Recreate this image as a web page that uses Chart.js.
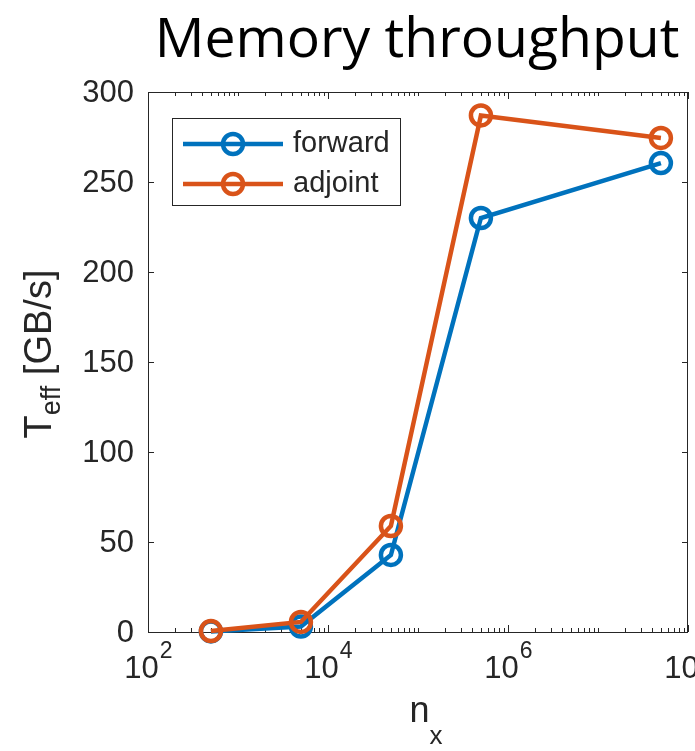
<!DOCTYPE html>
<html>
<head>
<meta charset="utf-8">
<script src="https://cdn.jsdelivr.net/npm/chart.js@4.4.1/dist/chart.umd.min.js"></script>
<style>
  html, body { margin: 0; padding: 0; background: #ffffff; }
  #wrap { width: 695px; height: 751px; position: relative; }
</style>
</head>
<body>
<div id="wrap"><canvas id="c" width="695" height="751"></canvas></div>
<script>
// ---- data ----
const titleText = "Memory throughput";
const nx = [5e2, 5e3, 5e4, 5e5, 5e7];
const forward = [0.3, 3.0, 42.8, 230, 260.5];
const adjoint = [0.5, 5.6, 58.9, 287, 274.5];
const seriesNames = ["forward", "adjoint"];
const xTickValues = [1e2, 1e4, 1e6, 1e8];
const xTickExponents = ["2", "4", "6", "8"];
const yTickValues = [0, 50, 100, 150, 200, 250, 300];
const yTickLabels = ["0", "50", "100", "150", "200", "250", "300"];

const BLUE = "#0072BD";
const ORANGE = "#D95319";
const AXC = "#262626";
const SANS = "'Liberation Sans', Arial, Helvetica, sans-serif";

const toPts = (arr) => nx.map((x, i) => ({ x: x, y: arr[i] }));

const axesPlugin = {
  id: "matlabAxes",
  beforeDatasetsDraw(chart) {
    const ctx = chart.ctx;
    const a = chart.chartArea;
    const xs = chart.scales.x, ys = chart.scales.y;
    ctx.save();
    ctx.strokeStyle = AXC;
    ctx.lineWidth = 1;
    // box
    ctx.strokeRect(Math.round(a.left) + 0.5, Math.round(a.top) + 0.5,
                   Math.round(a.right - a.left) - 1, Math.round(a.bottom - a.top));
    // x major ticks
    ctx.beginPath();
    xs.ticks.forEach(t => {
      const px = Math.round(xs.getPixelForValue(t.value)) + 0.5;
      ctx.moveTo(px, a.bottom); ctx.lineTo(px, a.bottom - 7);
      ctx.moveTo(px, a.top); ctx.lineTo(px, a.top + 7);
    });
    // x minor ticks
    for (let e = 2; e < 8; e++) {
      for (let m = 1; m <= 9; m++) {
        const v = m * Math.pow(10, e);
        if (m === 1 && e % 2 === 0) continue;
        const px = Math.round(xs.getPixelForValue(v)) + 0.5;
        ctx.moveTo(px, a.bottom); ctx.lineTo(px, a.bottom - 4);
        ctx.moveTo(px, a.top); ctx.lineTo(px, a.top + 4);
      }
    }
    // y ticks
    ys.ticks.forEach(t => {
      const py = Math.round(ys.getPixelForValue(t.value)) + 0.5;
      ctx.moveTo(a.left, py); ctx.lineTo(a.left + 6, py);
      ctx.moveTo(a.right, py); ctx.lineTo(a.right - 6, py);
    });
    ctx.stroke();

    // y tick labels
    ctx.fillStyle = AXC;
    ctx.font = "31px " + SANS;
    ctx.textAlign = "right";
    ctx.textBaseline = "middle";
    ys.ticks.forEach((t, i) => {
      const py = ys.getPixelForValue(t.value);
      ctx.fillText(yTickLabels[yTickValues.indexOf(t.value)], a.left - 14, py + 1);
    });

    // x tick labels with superscript exponents
    xs.ticks.forEach((t, i) => {
      const px = xs.getPixelForValue(t.value);
      const exp = xTickExponents[xTickValues.indexOf(t.value)];
      ctx.font = "31px " + SANS;
      const wb = ctx.measureText("10").width;
      ctx.font = "23px " + SANS;
      const we = ctx.measureText(exp).width;
      const x0 = px - (wb + we) / 2;
      ctx.textAlign = "left";
      ctx.textBaseline = "alphabetic";
      ctx.font = "31px " + SANS;
      ctx.fillText("10", x0, a.bottom + 46);
      ctx.font = "23px " + SANS;
      ctx.fillText(exp, x0 + wb + 1, a.bottom + 26);
    });

    // x axis label n_x
    const cx = (a.left + a.right) / 2 + 8;
    ctx.font = "36px " + SANS;
    const wn = ctx.measureText("n").width;
    ctx.font = "26px " + SANS;
    const wx = ctx.measureText("x").width;
    ctx.textAlign = "left";
    ctx.font = "36px " + SANS;
    ctx.fillText("n", cx - (wn + wx) / 2, a.bottom + 90);
    ctx.font = "26px " + SANS;
    ctx.fillText("x", cx - (wn + wx) / 2 + wn, a.bottom + 112);

    // y axis label T_eff [GB/s]
    ctx.save();
    const cy = (a.top + a.bottom) / 2;
    ctx.translate(51, cy - 8);
    ctx.rotate(-Math.PI / 2);
    ctx.font = "38px " + SANS;
    const wT = ctx.measureText("T").width;
    const wR = ctx.measureText(" [GB/s]").width;
    ctx.font = "27px " + SANS;
    const wE = ctx.measureText("eff").width;
    const total = wT + wE + wR;
    let xx = -total / 2;
    ctx.textAlign = "left";
    ctx.font = "38px " + SANS;
    ctx.fillText("T", xx, 0); xx += wT;
    ctx.font = "27px " + SANS;
    ctx.fillText("eff", xx, 9); xx += wE;
    ctx.font = "38px " + SANS;
    ctx.fillText(" [GB/s]", xx, 0);
    ctx.restore();

    // title
    ctx.font = "100px 'Open Sans', Lato, sans-serif";
    const w100 = ctx.measureText(titleText).width;
    const fs = 100 * 525 / w100;
    ctx.font = fs.toFixed(1) + "px 'Open Sans', Lato, sans-serif";
    ctx.fillStyle = "#000000";
    ctx.textAlign = "center";
    ctx.textBaseline = "alphabetic";
    ctx.fillText(titleText, 417, 57);
    ctx.restore();
  },
  afterDraw(chart) {
    const ctx = chart.ctx;
    ctx.save();
    // legend
    const bx = 172, by = 118, bw = 228, bh = 87;
    ctx.fillStyle = "#ffffff";
    ctx.fillRect(bx, by, bw, bh);
    ctx.strokeStyle = AXC;
    ctx.lineWidth = 1;
    ctx.strokeRect(bx + 0.5, by + 0.5, bw, bh);
    const rows = [{ y: 144, c: BLUE, t: seriesNames[0] }, { y: 184, c: ORANGE, t: seriesNames[1] }];
    rows.forEach(r => {
      ctx.strokeStyle = r.c;
      ctx.lineWidth = 4.5;
      ctx.beginPath();
      ctx.moveTo(183, r.y); ctx.lineTo(283, r.y);
      ctx.stroke();
      ctx.beginPath();
      ctx.arc(233, r.y, 10, 0, Math.PI * 2);
      ctx.stroke();
      ctx.fillStyle = AXC;
      ctx.font = "29px " + SANS;
      ctx.textAlign = "left";
      ctx.textBaseline = "middle";
      ctx.fillText(r.t, 293, r.y);
    });
    ctx.restore();
  }
};

new Chart(document.getElementById("c"), {
  type: "line",
  data: {
    datasets: [
      { label: seriesNames[0], data: toPts(forward), borderColor: BLUE, backgroundColor: "transparent",
        borderWidth: 4.5, pointRadius: 10, pointBorderWidth: 4.5, pointBackgroundColor: "rgba(0,0,0,0)",
        pointBorderColor: BLUE, tension: 0, clip: false, order: 1 },
      { label: seriesNames[1], data: toPts(adjoint), borderColor: ORANGE, backgroundColor: "transparent",
        borderWidth: 4.5, pointRadius: 10, pointBorderWidth: 4.5, pointBackgroundColor: "rgba(0,0,0,0)",
        pointBorderColor: ORANGE, tension: 0, clip: false, order: 0 }
    ]
  },
  plugins: [axesPlugin],
  options: {
    responsive: false,
    animation: false,
    events: [],
    layout: { autoPadding: false, padding: { left: 148, right: 7, top: 92, bottom: 119 } },
    plugins: { legend: { display: false }, tooltip: { enabled: false }, title: { display: false } },
    scales: {
      x: {
        type: "logarithmic", min: 1e2, max: 1e8,
        afterBuildTicks: (s) => { s.ticks = xTickValues.map(v => ({ value: v })); },
        afterFit: (s) => { s.height = 0; s.paddingLeft = 0; s.paddingRight = 0; },
        ticks: { display: false },
        grid: { display: false },
        border: { display: false }
      },
      y: {
        type: "linear", min: 0, max: 300,
        afterBuildTicks: (s) => { s.ticks = yTickValues.map(v => ({ value: v })); },
        afterFit: (s) => { s.width = 0; s.paddingTop = 0; s.paddingBottom = 0; },
        ticks: { display: false },
        grid: { display: false },
        border: { display: false }
      }
    }
  }
});
</script>
</body>
</html>
